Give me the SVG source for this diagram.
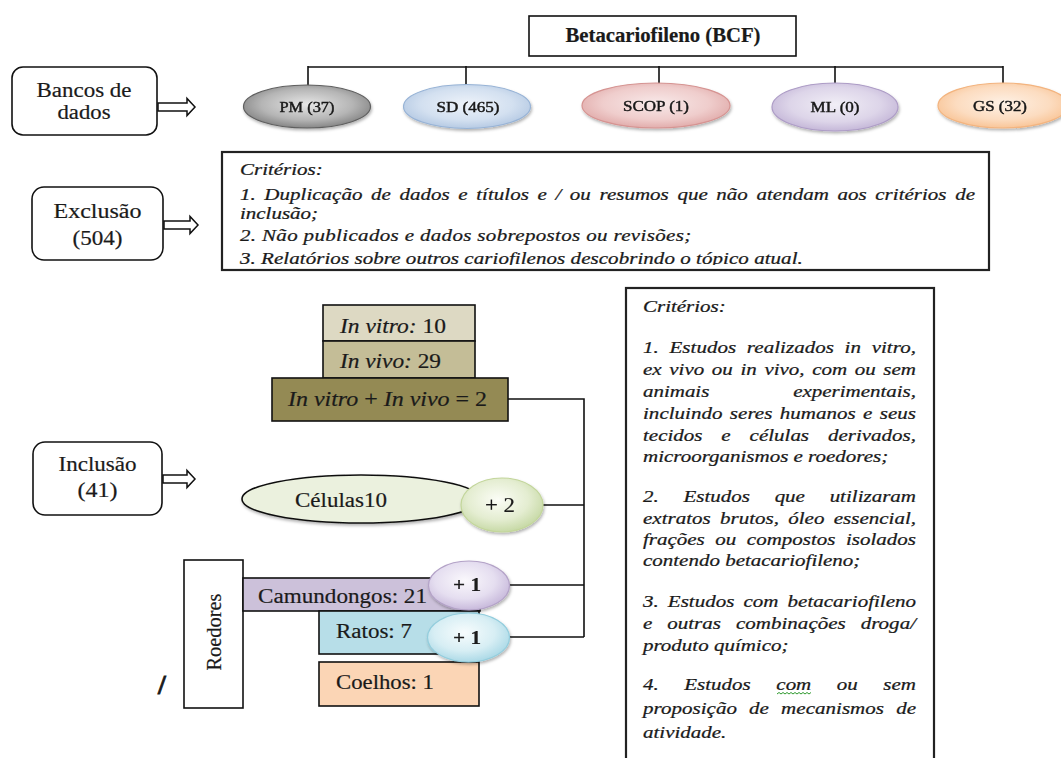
<svg xmlns="http://www.w3.org/2000/svg" width="1061" height="758" viewBox="0 0 1061 758">
  <style>
    .box { fill: #fff; stroke: #111; stroke-width: 1.6; }
    .frame { fill: #fff; stroke: #222; stroke-width: 2.2; }
    .line { fill: none; stroke: #111; stroke-width: 1.6; }
    .harrow { fill: #fff; stroke: #111; stroke-width: 1.5; stroke-linejoin: miter; }
    .lbl { font-family: 'Liberation Serif', Tinos, 'Times New Roman', 'DejaVu Serif', serif; font-size: 20px; fill: #1a1a1a; stroke: #1a1a1a; stroke-width: 0.2; }
    .mid { text-anchor: middle; }
    .plus { font-size: 18px; font-weight: bold; }
    .db { font-family: 'Liberation Serif', Tinos, 'Times New Roman', 'DejaVu Serif', serif; font-size: 14.5px; fill: #1a1a1a; stroke: #1a1a1a; stroke-width: 0.45; text-anchor: middle; }
    .crit { font-family: 'Liberation Serif', Tinos, 'Times New Roman', 'DejaVu Serif', serif; font-style: italic; font-size: 17.5px; fill: #1a1a1a; stroke: #1a1a1a; stroke-width: 0.25; }
    .it { font-style: italic; }
  </style>
  <defs>
    <filter id="soft" x="-20%" y="-30%" width="140%" height="160%">
      <feDropShadow dx="1" dy="2" stdDeviation="1.6" flood-color="#000" flood-opacity="0.3"/>
    </filter>
    <radialGradient id="gPM" cx="50%" cy="45%" r="60%">
      <stop offset="0" stop-color="#e6e6e6"/>
      <stop offset="0.6" stop-color="#b5b5b5"/>
      <stop offset="1" stop-color="#7a7a7a"/>
    </radialGradient>
    <radialGradient id="gSD" cx="50%" cy="45%" r="60%">
      <stop offset="0" stop-color="#eef3fa"/>
      <stop offset="0.6" stop-color="#d3e0f0"/>
      <stop offset="1" stop-color="#aec4e0"/>
    </radialGradient>
    <radialGradient id="gSCOP" cx="50%" cy="45%" r="60%">
      <stop offset="0" stop-color="#f8e9e9"/>
      <stop offset="0.6" stop-color="#efcdcc"/>
      <stop offset="1" stop-color="#dea4a3"/>
    </radialGradient>
    <radialGradient id="gML" cx="50%" cy="45%" r="60%">
      <stop offset="0" stop-color="#f1eef6"/>
      <stop offset="0.6" stop-color="#ddd5e9"/>
      <stop offset="1" stop-color="#bfb0d4"/>
    </radialGradient>
    <radialGradient id="gGS" cx="50%" cy="45%" r="60%">
      <stop offset="0" stop-color="#fef1e5"/>
      <stop offset="0.6" stop-color="#fcdcc0"/>
      <stop offset="1" stop-color="#f8bf8d"/>
    </radialGradient>
    <radialGradient id="gGreen" cx="45%" cy="40%" r="62%">
      <stop offset="0" stop-color="#fbfdf6"/>
      <stop offset="0.6" stop-color="#e4edd1"/>
      <stop offset="1" stop-color="#c5d8a3"/>
    </radialGradient>
    <radialGradient id="gLilac" cx="45%" cy="40%" r="62%">
      <stop offset="0" stop-color="#faf8fc"/>
      <stop offset="0.6" stop-color="#e5def0"/>
      <stop offset="1" stop-color="#c6b7da"/>
    </radialGradient>
    <radialGradient id="gAqua" cx="45%" cy="40%" r="62%">
      <stop offset="0" stop-color="#f7fcfd"/>
      <stop offset="0.6" stop-color="#d7eef4"/>
      <stop offset="1" stop-color="#a9d8e6"/>
    </radialGradient>
    <clipPath id="exclClip">
      <rect x="222" y="153" width="766" height="112"/>
    </clipPath>
  </defs>

  <rect width="1061" height="758" fill="#fff"/>

  <!-- connectors: database tree, hollow arrows and the inclusion bracket -->
  <g id="connectors">
    <path class="line" d="M308,67 H1003 M308,66 V88 M466,66 V88 M659,66 V88 M835,66 V88 M1003,66 V88"/>
    <path class="harrow" d="M158,103 H187 V98.5 L195,107 L187,115.5 V111 H158 Z"/>
    <path class="harrow" d="M164,221 H190 V216.5 L198,225 L190,233.5 V229 H164 Z"/>
    <path class="harrow" d="M163,475 H187 V470.5 L195,479 L187,487.5 V483 H163 Z"/>
    <path class="line" d="M508,399 H584 V637 M543,505 H584 M508,585 H584 M508,637 H584"/>
  </g>

  <!-- title -->
  <g id="title">
    <rect class="box" x="529" y="16" width="267" height="40"/>
    <text class="lbl mid" x="663" y="42" font-weight="bold" textLength="195" lengthAdjust="spacingAndGlyphs">Betacariofileno (BCF)</text>
  </g>

  <!-- side labels -->
  <g id="bancos">
    <rect class="box" x="12" y="67" width="145" height="68" rx="11"/>
    <text class="lbl mid" x="84" y="97" textLength="95" lengthAdjust="spacingAndGlyphs">Bancos de</text>
    <text class="lbl mid" x="84" y="119" textLength="53" lengthAdjust="spacingAndGlyphs">dados</text>
  </g>
  <g id="exclusao">
    <rect class="box" x="32" y="187" width="131" height="73" rx="12"/>
    <text class="lbl mid" x="97.5" y="218" textLength="88" lengthAdjust="spacingAndGlyphs">Exclusão</text>
    <text class="lbl mid" x="97.5" y="245" textLength="50" lengthAdjust="spacingAndGlyphs">(504)</text>
  </g>
  <g id="inclusao">
    <rect class="box" x="33" y="442" width="129" height="73" rx="12"/>
    <text class="lbl mid" x="97.5" y="471" textLength="78" lengthAdjust="spacingAndGlyphs">Inclusão</text>
    <text class="lbl mid" x="97.5" y="497" textLength="40" lengthAdjust="spacingAndGlyphs">(41)</text>
  </g>

  <!-- databases -->
  <g id="db-pm" filter="url(#soft)">
    <ellipse cx="307" cy="106.5" rx="63.5" ry="21.5" fill="url(#gPM)" stroke="#5f5f5f" stroke-width="1.2"/>
    <text class="db" x="307" y="112" textLength="55" lengthAdjust="spacingAndGlyphs">PM (37)</text>
  </g>
  <g id="db-sd" filter="url(#soft)">
    <ellipse cx="467" cy="106.5" rx="63.5" ry="22" fill="url(#gSD)" stroke="#97b3d6" stroke-width="1.2"/>
    <text class="db" x="468" y="112" textLength="63" lengthAdjust="spacingAndGlyphs">SD (465)</text>
  </g>
  <g id="db-scop" filter="url(#soft)">
    <ellipse cx="656" cy="105.5" rx="74" ry="22.5" fill="url(#gSCOP)" stroke="#d69492" stroke-width="1.2"/>
    <text class="db" x="656" y="111" textLength="66" lengthAdjust="spacingAndGlyphs">SCOP (1)</text>
  </g>
  <g id="db-ml" filter="url(#soft)">
    <ellipse cx="835" cy="107" rx="63" ry="24" fill="url(#gML)" stroke="#ad9cc6" stroke-width="1.2"/>
    <text class="db" x="835" y="112" textLength="49" lengthAdjust="spacingAndGlyphs">ML (0)</text>
  </g>
  <g id="db-gs" filter="url(#soft)">
    <ellipse cx="1003" cy="105.5" rx="65" ry="22.5" fill="url(#gGS)" stroke="#f3b47f" stroke-width="1.2"/>
    <text class="db" x="1000" y="111" textLength="54" lengthAdjust="spacingAndGlyphs">GS (32)</text>
  </g>

  <!-- exclusion criteria -->
  <g id="exclusion-criteria">
    <rect class="frame" x="222" y="152" width="767" height="118"/>
    <g clip-path="url(#exclClip)">
      <g class="crit" transform="matrix(1.2,0,0,1,-48,0)">
        <text x="240" y="175">Critérios:</text>
        <text x="240" y="200" word-spacing="2.8" textLength="612.5" lengthAdjust="spacing">1. Duplicação de dados e títulos e / ou resumos que não atendam aos critérios de</text>
        <text x="240" y="219">inclusão;</text>
        <text x="240" y="241" textLength="376" lengthAdjust="spacing">2. Não publicados e dados sobrepostos ou revisões;</text>
        <text x="240" y="264" textLength="469" lengthAdjust="spacing">3. Relatórios sobre outros cariofilenos descobrindo o tópico atual.</text>
      </g>
    </g>
  </g>

  <!-- in vitro / in vivo stack -->
  <g id="invitro">
    <rect x="323" y="305" width="152" height="36" fill="#ddd9c3" stroke="#111" stroke-width="1.6"/>
    <text class="lbl" x="340" y="333" textLength="106" lengthAdjust="spacingAndGlyphs"><tspan class="it">In vitro:</tspan> 10</text>
  </g>
  <g id="invivo">
    <rect x="323" y="341" width="152" height="37" fill="#c4bd97" stroke="#111" stroke-width="1.6"/>
    <text class="lbl" x="340" y="368" textLength="101" lengthAdjust="spacingAndGlyphs"><tspan class="it">In vivo:</tspan> 29</text>
  </g>
  <g id="ambos">
    <rect x="272" y="378" width="236" height="43" fill="#948a54" stroke="#111" stroke-width="1.6"/>
    <text class="lbl" x="288" y="406" textLength="199" lengthAdjust="spacingAndGlyphs"><tspan class="it">In vitro</tspan> + <tspan class="it">In vivo</tspan> = 2</text>
  </g>

  <!-- cells -->
  <g id="celulas">
    <ellipse cx="361" cy="499" rx="119" ry="24" fill="#ebf1de" stroke="#111" stroke-width="1.6" filter="url(#soft)"/>
    <text class="lbl" x="295" y="507" textLength="92" lengthAdjust="spacingAndGlyphs">Células10</text>
  </g>
  <g id="celulas-extra" filter="url(#soft)">
    <ellipse cx="502" cy="505" rx="41" ry="27" fill="url(#gGreen)" stroke="#c3d69b" stroke-width="1.2"/>
    <text class="lbl mid" x="500" y="512" textLength="30" lengthAdjust="spacingAndGlyphs">+ 2</text>
  </g>

  <!-- rodents -->
  <g id="roedores">
    <rect class="box" x="184" y="560" width="59" height="148"/>
    <text class="lbl mid" transform="translate(221,632) rotate(-90)" x="0" y="0" textLength="77" lengthAdjust="spacingAndGlyphs">Roedores</text>
  </g>
  <g id="camundongos">
    <rect x="243" y="578" width="237" height="33" fill="#ccc1da" stroke="#111" stroke-width="1.6"/>
    <text class="lbl" x="258" y="603" textLength="169" lengthAdjust="spacingAndGlyphs">Camundongos: 21</text>
  </g>
  <g id="ratos">
    <rect x="319" y="611" width="160" height="43" fill="#b7dee8" stroke="#111" stroke-width="1.6"/>
    <text class="lbl" x="336" y="638" textLength="76" lengthAdjust="spacingAndGlyphs">Ratos: 7</text>
  </g>
  <g id="coelhos">
    <rect x="319" y="662" width="160" height="44" fill="#fbd5b5" stroke="#111" stroke-width="1.6"/>
    <text class="lbl" x="336" y="689" textLength="98" lengthAdjust="spacingAndGlyphs">Coelhos: 1</text>
  </g>
  <g id="camundongos-extra" filter="url(#soft)">
    <ellipse cx="469" cy="585.5" rx="40.5" ry="24.5" fill="url(#gLilac)" stroke="#b3a2c7" stroke-width="1.2"/>
    <text class="lbl mid plus" x="467" y="591" textLength="28" lengthAdjust="spacingAndGlyphs">+ 1</text>
  </g>
  <g id="ratos-extra" filter="url(#soft)">
    <ellipse cx="468.5" cy="637.5" rx="41" ry="24.5" fill="url(#gAqua)" stroke="#93cddd" stroke-width="1.2"/>
    <text class="lbl mid plus" x="467" y="644" textLength="28" lengthAdjust="spacingAndGlyphs">+ 1</text>
  </g>
  <text class="lbl" x="158" y="694" style="font-size:28px;font-weight:bold;stroke-width:0.8px">/</text>

  <!-- inclusion criteria -->
  <g id="inclusion-criteria">
    <rect class="frame" x="626" y="288" width="308" height="490"/>
    <g class="crit" transform="matrix(1.2,0,0,1,-128.6,0)">
      <text x="643" y="312">Critérios:</text>
      <text x="643" y="353" word-spacing="4.4" textLength="227.5" lengthAdjust="spacing">1. Estudos realizados in vitro,</text>
      <text x="643" y="375" word-spacing="2" textLength="227.5" lengthAdjust="spacing">ex vivo ou in vivo, com ou sem</text>
      <text x="643" y="397" word-spacing="65.5" textLength="227.5" lengthAdjust="spacing">animais experimentais,</text>
      <text x="643" y="419" word-spacing="1.7" textLength="227.5" lengthAdjust="spacing">incluindo seres humanos e seus</text>
      <text x="643" y="441" word-spacing="11.4" textLength="227.5" lengthAdjust="spacing">tecidos e células derivados,</text>
      <text x="643" y="462">microorganismos e roedores;</text>
      <text x="643" y="502" word-spacing="16.2" textLength="227.5" lengthAdjust="spacing">2. Estudos que utilizaram</text>
      <text x="643" y="524" word-spacing="3.4" textLength="227.5" lengthAdjust="spacing">extratos brutos, óleo essencial,</text>
      <text x="643" y="545" word-spacing="4.4" textLength="227.5" lengthAdjust="spacing">frações ou compostos isolados</text>
      <text x="643" y="566">contendo betacariofileno;</text>
      <text x="643" y="607" word-spacing="3.2" textLength="227.5" lengthAdjust="spacing">3. Estudos com betacariofileno</text>
      <text x="643" y="629" word-spacing="8" textLength="227.5" lengthAdjust="spacing">e outras combinações droga/</text>
      <text x="643" y="651">produto químico;</text>
      <text x="643" y="690" word-spacing="16.9" textLength="227.5" lengthAdjust="spacing">4. Estudos com ou sem</text>
      <text x="643" y="714" word-spacing="5.7" textLength="227.5" lengthAdjust="spacing">proposição de mecanismos de</text>
      <text x="643" y="738">atividade.</text>
    </g>
    <!-- spell-check squiggle under "com" -->
    <polyline points="777,694 779,692.5 781,694 783,692.5 785,694 787,692.5 789,694 791,692.5 793,694 795,692.5 797,694 799,692.5 801,694 803,692.5 805,694 807,692.5 809,694 811,692.5" fill="none" stroke="#2e9a2e" stroke-width="1"/>
  </g>
</svg>
